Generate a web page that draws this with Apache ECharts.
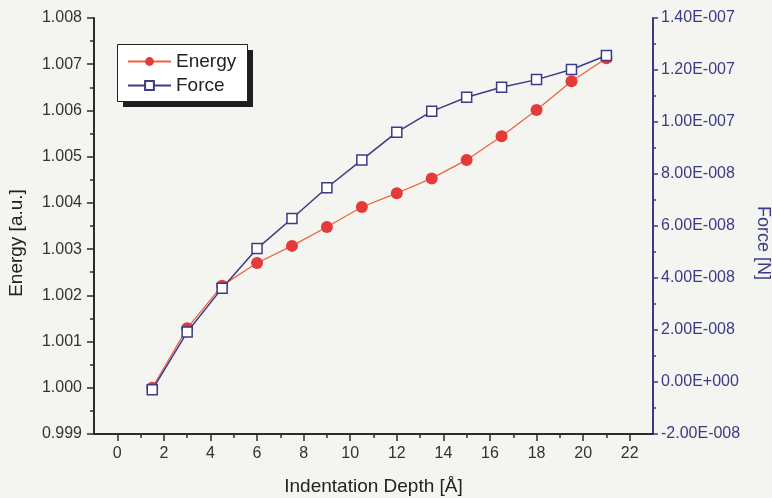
<!DOCTYPE html>
<html><head><meta charset="utf-8">
<script src="https://cdn.jsdelivr.net/npm/echarts@6/dist/echarts.min.js"></script>
<style>html,body{margin:0;padding:0;background:#f4f4f1;}#c{width:772px;height:498px;}</style>
</head><body><div id="c"></div>
<script>
const depth = [1.5, 3, 4.5, 6, 7.5, 9, 10.5, 12, 13.5, 15, 16.5, 18, 19.5, 21];
const energy = [1.0000, 1.00129, 1.00221, 1.00270, 1.00307, 1.00348, 1.00391, 1.00421, 1.00453, 1.00493, 1.00544, 1.00601, 1.00663, 1.00713];
const force = [-0.30e-8, 1.92e-8, 3.61e-8, 5.13e-8, 6.29e-8, 7.47e-8, 8.54e-8, 9.61e-8, 10.41e-8, 10.95e-8, 11.34e-8, 11.63e-8, 12.02e-8, 12.56e-8];
const xMajor = [0, 2, 4, 6, 8, 10, 12, 14, 16, 18, 20, 22];
const xMinor = [1, 3, 5, 7, 9, 11, 13, 15, 17, 19, 21];

const FONT = 'Liberation Sans';
const AX = '#2b2b2b';
const NAVY = '#3b3b86';

function sci(v){
  let s = v.toExponential(2);
  let m = s.match(/^(-?[\d.]+)e([+-])(\d+)$/);
  let exp = m[3].padStart(3,'0');
  return m[1] + 'E' + m[2] + exp;
}

const chart = echarts.init(document.getElementById('c'), null, {renderer:'canvas'});
chart.setOption({
  backgroundColor: '#f4f4f1',
  animation: false,
  grid: {left: 94, right: 119, top: 18, bottom: 64, outerBoundsMode: 'none', containLabel: false},
  graphic: [
    {type: 'rect', left: 123, top: 50, z: 10, shape: {width: 130, height: 57}, style: {fill: '#1e1e1e'}},
    {type: 'rect', left: 117, top: 44, z: 11, shape: {width: 130, height: 57}, style: {fill: '#ffffff', stroke: '#222', lineWidth: 1}}
  ],
  legend: {
    left: 117, top: 46, orient: 'vertical', z: 20,
    padding: [6, 8, 6, 10],
    itemWidth: 43, itemHeight: 11, itemGap: 5,
    textStyle: {fontFamily: FONT, fontSize: 19, color: '#222'},
    data: ['Energy', 'Force']
  },
  xAxis: [{
    type: 'value', min: -1, max: 23, position: 'bottom',
    name: 'Indentation Depth [Å]', nameLocation: 'middle', nameGap: 43,
    nameTextStyle: {fontFamily: FONT, fontSize: 19, color: '#222'},
    axisLine: {show: true, onZero: false, lineStyle: {color: AX, width: 2}},
    axisTick: {show: true, customValues: xMajor, length: 7, inside: false, lineStyle: {color: AX, width: 1.5}},
    axisLabel: {customValues: xMajor, fontFamily: FONT, fontSize: 16, color: '#333', margin: 12},
    splitLine: {show: false}
  }, {
    type: 'value', min: -1, max: 23, position: 'bottom',
    axisLine: {show: false, onZero: false},
    axisTick: {show: true, customValues: xMinor, length: 4, lineStyle: {color: AX, width: 1.5}},
    axisLabel: {show: false},
    splitLine: {show: false}
  }],
  yAxis: [{
    type: 'value', min: 0.999, max: 1.008, interval: 0.001, position: 'left',
    name: 'Energy [a.u.]', nameLocation: 'middle', nameGap: 68, nameRotate: 90,
    nameTextStyle: {fontFamily: FONT, fontSize: 19, color: '#222', padding: [0, 34, 0, 0]},
    axisLine: {show: true, onZero: false, lineStyle: {color: AX, width: 2}},
    axisTick: {show: true, length: 7, lineStyle: {color: AX, width: 1.5}},
    minorTick: {show: true, splitNumber: 2, length: 4, lineStyle: {color: AX, width: 1.5}},
    axisLabel: {fontFamily: FONT, fontSize: 16, color: '#333', margin: 12, formatter: v => v.toFixed(3)},
    splitLine: {show: false}
  }, {
    type: 'value', min: -2e-8, max: 1.4e-7, interval: 2e-8, position: 'right',
    name: 'Force [N]', nameLocation: 'middle', nameGap: 101, nameRotate: -90,
    nameTextStyle: {fontFamily: FONT, fontSize: 18, color: NAVY, padding: [0, 0, 0, 34]},
    axisLine: {show: true, onZero: false, lineStyle: {color: NAVY, width: 2}},
    axisTick: {show: true, length: 5, lineStyle: {color: NAVY, width: 1.5}},
    minorTick: {show: true, splitNumber: 2, length: 3, lineStyle: {color: NAVY, width: 1.5}},
    axisLabel: {fontFamily: FONT, fontSize: 16, color: NAVY, margin: 8, formatter: v => sci(v)},
    splitLine: {show: false}
  }],
  series: [{
    name: 'Energy', type: 'line', xAxisIndex: 0, yAxisIndex: 0,
    data: depth.map((x, i) => [x, energy[i]]),
    symbol: 'circle', symbolSize: 12, z: 3,
    lineStyle: {color: '#f0603e', width: 1.2},
    itemStyle: {color: '#e53a3a', borderColor: '#e53a3a', borderWidth: 0}
  }, {
    name: 'Force', type: 'line', xAxisIndex: 0, yAxisIndex: 1,
    data: depth.map((x, i) => [x, force[i]]),
    symbol: 'rect', symbolSize: 10, showAllSymbol: true, z: 4,
    lineStyle: {color: NAVY, width: 1.5},
    itemStyle: {color: '#ffffff', borderColor: NAVY, borderWidth: 1.5}
  }]
});
</script></body></html>
